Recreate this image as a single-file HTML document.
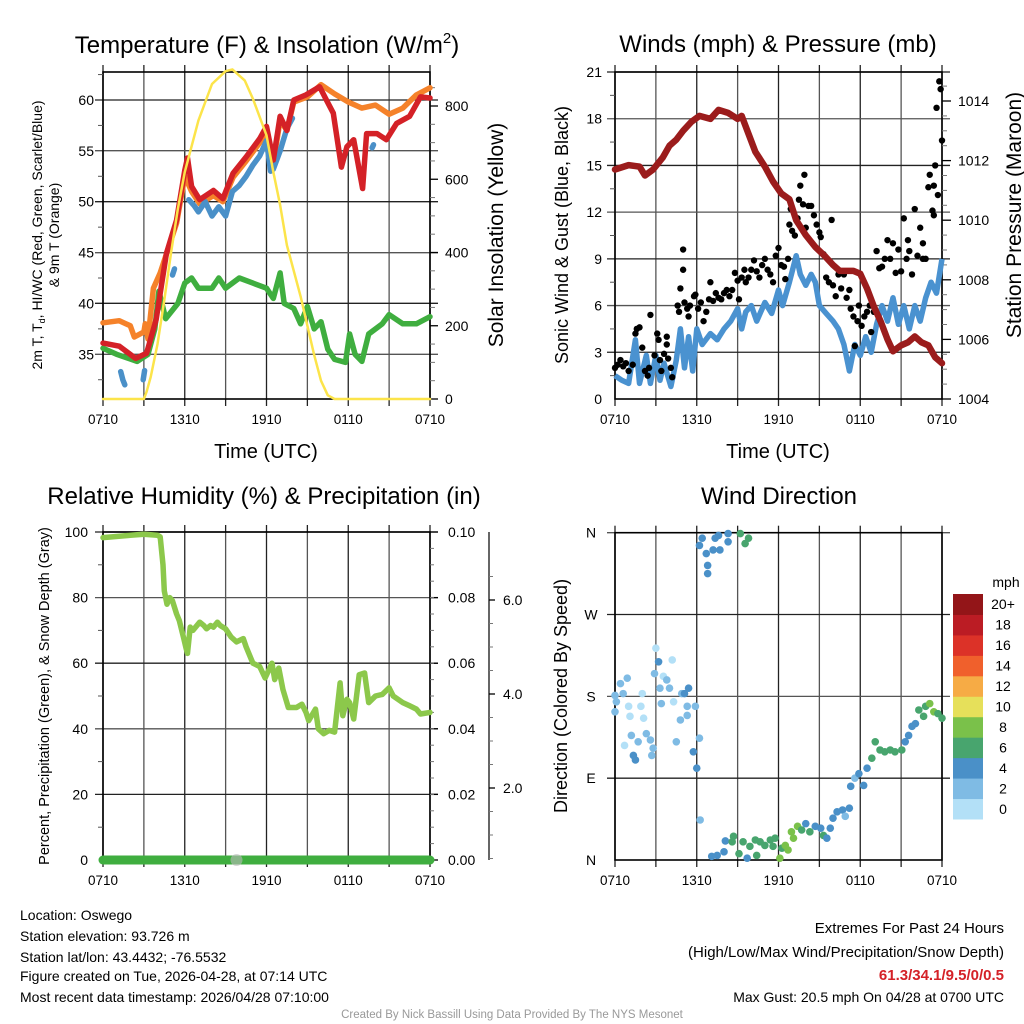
<!DOCTYPE html>
<html><head><meta charset="utf-8"><style>
html,body{margin:0;padding:0;background:#fff}
svg{display:block;font-family:"Liberation Sans",Arial,sans-serif}
</style></head><body>
<svg id="s" width="1024" height="1024" viewBox="0 0 1024 1024" xmlns="http://www.w3.org/2000/svg"></svg>
<script>
// ---------- DATA ----------
const xTickLabels = ["0710","1310","1910","0110","0710"];
// Panel 1
const tempT = [0,1.2,2.4,3.2,3.9,4.65,5.4,6.0,6.2,6.5,7.1,8.1,8.8,9.55,10.5,11.5,12.0,12.5,13.0,13.5,14.0,14.9,15.9,16.4,16.9,17.5,17.9,18.4,19.05,19.35,20.1,20.8,21.55,22.5,23.3,24];
const tempV = [36.1,35.8,34.6,35.1,38.4,44.9,48.2,53.1,54.3,51.5,50.2,51.1,50.3,52.8,54.4,56.2,57.4,54.1,58.4,57.0,60,60.5,61.3,60,58.7,53.4,55.4,56.1,51.3,56.7,56.7,56.1,57.7,58.4,60.3,60.2];
const t9T = [0,1.2,2.0,2.3,3.0,3.1,3.3,3.7,4.2,5.4,6.0,6.5,7.1,8.1,8.8,9.55,10.5,11.5,12.0,12.5,13.0,13.5,14.0,15.0,16.0,17.0,18.0,19.0,20.0,21.0,22.0,23.0,24];
const t9V = [38.1,38.3,37.8,36.7,37.2,38.0,36.5,41.5,43.0,47.9,52.5,51.0,49.8,50.6,50.0,52.4,54.0,55.8,57.0,53.8,58.0,57.0,59.8,60.3,61.5,60.6,59.8,59.2,59.5,58.6,59.2,60.5,61.2];
const hiT1 = [1.3,1.45,1.6]; const hiV1 = [33.3,32.5,32.0];
const hiT2 = [2.95,3.05]; const hiV2 = [32.5,33.4];
const hiT3 = [5.1,5.25]; const hiV3 = [42.8,43.4];
const hiT4 = [6.3,6.7,7.0,7.5,8.0,8.5,9.0,9.5,10.0,10.5,11.0,11.5,12.0,12.3,12.5,13.0,13.5,13.9];
const hiV4 = [50.2,49.6,49.0,50.0,48.6,49.5,48.6,51.0,51.6,52.5,53.6,54.5,56.0,53.0,53.2,55.0,57.2,58.2];
const hiT5 = [19.75,19.85]; const hiV5 = [55.3,55.6];
const dewT = [0,1,2.5,3.3,3.8,4.1,4.6,5.5,6.0,6.5,7,8,8.5,9,10,11,12,12.5,13,13.3,14,14.5,15,15.5,16,16.5,17,17.8,18.1,18.5,19.0,19.5,20.5,21,22,23,24];
const dewV = [35.6,35,34.3,35,37.5,41.2,38.5,40,42,42.5,41.5,41.5,42.5,41.5,42.5,42,41.5,40.5,43,40,39.5,38,39.7,37.5,38.2,35.5,34.5,34.2,37,35,34.3,37,38,38.9,38,38,38.7];
const solT = [0,3.0,3.2,3.5,4,4.5,5,5.5,6,7,8,9,9.5,10.4,11,12,12.5,13,13.5,14.5,15,15.5,16,16.5,17,24];
const solV = [0,0,20,60,150,270,400,520,620,760,860,895,900,870,820,720,620,530,420,280,200,120,50,10,0,0];
// Panel 2
const presT = [0,1,1.8,2.2,2.8,3.5,4,4.5,5,5.6,6.2,7,7.6,8.3,9,9.3,9.8,10.3,11,11.6,12.2,12.8,13.3,14,14.7,15.4,16,16.5,17.5,18,18.5,19,19.5,20,20.4,21,21.5,22,22.5,23,23.5,24];
const presV = [1011.7,1011.85,1011.8,1011.5,1011.7,1012.1,1012.5,1012.7,1013.0,1013.3,1013.5,1013.4,1013.7,1013.6,1013.4,1013.5,1012.9,1012.3,1011.8,1011.3,1010.9,1010.7,1010.0,1009.5,1009.1,1008.8,1008.5,1008.3,1008.3,1008.2,1007.7,1007.1,1006.6,1006.0,1005.6,1005.8,1005.9,1006.1,1005.9,1005.8,1005.4,1005.2];
const windT = [0,0.5,1.0,1.5,1.8,2.3,2.6,3.0,3.3,3.6,4.1,4.5,4.8,5.1,5.4,5.7,6.0,6.4,7.0,7.5,8.0,8.5,9.0,9.3,9.6,10.0,10.4,11.0,11.5,12.0,12.3,12.8,13.3,13.6,14.0,14.4,14.7,15.0,15.5,16.0,16.4,16.8,17.2,17.6,18.0,18.4,18.8,19.2,19.6,20,20.4,20.8,21.2,21.6,22,22.4,22.8,23.2,23.6,24];
const windV = [1.5,1.2,1.0,3.8,1.0,2.8,1.0,2.8,1.2,2.3,0.8,2.5,4.5,2.0,4.0,1.8,4.5,3.5,4.2,3.8,4.5,5.0,5.8,4.5,5.6,6.0,5.0,6.2,5.5,7.0,6.0,7.5,9.2,8.0,7.3,8.0,7.5,6.0,5.5,5.0,4.5,3.5,1.8,3.5,2.8,4.0,3.0,4.8,6.0,5.0,6.5,4.8,6.0,4.5,6.0,5.0,6.5,7.5,6.8,9.0];
const gustT = [0,0.2,0.4,0.6,0.8,1.0,1.3,1.5,1.6,1.8,2.0,2.2,2.4,2.5,2.6,2.9,3.1,3.2,3.3,3.4,3.6,3.8,3.8,3.9,4.1,4.2,4.6,4.7,4.8,5.0,5.0,5.1,5.3,5.4,5.5,5.8,5.9,6.1,6.3,6.5,6.7,6.9,7.0,7.2,7.4,7.6,7.8,8.0,8.2,8.4,8.6,8.8,9.0,9.1,9.3,9.5,9.6,9.8,10.0,10.2,10.4,10.6,10.8,11.0,11.2,11.4,11.6,11.8,12.0,12.2,12.4,12.5,12.7,12.8,12.9,13.0,13.2,13.4,13.5,13.6,13.8,13.9,14.0,14.2,14.4,14.6,14.8,15.0,15.1,15.3,15.5,15.7,15.9,16.0,16.2,16.4,16.6,16.8,17.0,17.2,17.3,17.5,17.6,17.8,17.9,18.1,18.3,18.5,18.7,18.8,19.0,19.2,19.4,19.6,19.8,20.0,20.2,20.4,20.6,20.8,21.0,21.2,21.4,21.5,21.6,21.8,22.0,22.2,22.4,22.6,22.6,22.8,23.0,23.1,23.3,23.4,23.4,23.5,23.6,23.7,23.8,23.9,24.0];
const gustV = [2.0,2.2,2.5,2.1,2.3,1.8,2.2,4.2,4.5,4.6,3.3,1.8,1.5,2.0,5.4,2.8,4.2,3.8,2.5,1.8,2.9,3.5,4.0,2.6,2.0,1.4,6.0,5.6,7.1,8.3,9.6,6.2,5.8,5.3,6.0,6.6,6.7,5.8,6.2,5.0,5.6,6.4,7.5,6.3,6.8,6.5,6.4,6.8,7.0,6.6,7.0,8.1,7.6,6.4,7.8,8.3,7.5,7.8,8.3,8.9,8.2,7.8,8.6,9.0,8.3,8.0,7.5,9.2,9.7,8.6,8.5,7.7,9.0,11.2,12.2,10.8,10.5,11.6,12.8,13.7,12.5,14.4,11.0,12.4,12.4,11.8,11.2,10.7,10.4,9.3,7.8,7.5,11.5,7.3,6.6,8.0,7.1,8.0,6.5,7.0,5.8,5.3,3.4,5.0,6.0,4.7,5.3,5.6,6.0,4.3,5.6,9.5,8.4,8.5,9.0,10.2,9.0,10.0,8.1,9.6,8.2,11.6,9.0,10.2,9.5,8.0,12.2,9.2,11.0,10.0,9.0,9.0,13.6,14.4,12.1,11.8,13.7,15.0,18.7,13.1,20.4,19.9,16.6];
// Panel 3
const rhT = [0,2,3,4,4.2,4.4,4.5,4.7,4.9,5.1,5.4,5.6,5.9,6.1,6.2,6.4,6.6,6.8,7.1,7.4,7.6,7.9,8.1,8.4,8.6,9.0,9.4,9.8,10.3,10.5,11,11.5,11.9,12.4,12.6,12.9,13.2,13.6,14.2,14.6,14.9,15.1,15.6,15.8,16.2,16.6,17,17.4,17.6,17.9,18.1,18.4,18.8,19.2,19.5,20,20.5,21,21.3,22,22.5,23,23.3,24];
const rhV = [98.3,99,99.3,99,98.5,90,82,78,80,79,75,73,68,64.5,63,71,70,71,72.5,71.5,70.5,71.5,71,72.5,71.5,70.5,68,66.5,67.5,65,60,59,55.5,60,55,58.5,52,46.5,46.5,47.5,45,42.5,46,40,38.5,39.5,39,54,44,49,48,43,56.5,57,48,50,50.5,52.5,50,48,47,46,44.5,45];
const precipT = [0,24]; const precipV = [0,0];
const snowT = [9.8]; const snowV = [0];
// Panel 4
const dirT = [0,0.1,0,0.4,0.9,0.6,1.0,1.1,1.2,0.7,1.35,1.5,1.7,2.0,1.9,2.1,2.3,2.6,2.8,2.7,2.9,3.0,3.2,3.3,3.4,3.55,3.8,4.0,4.2,4.3,4.5,4.8,4.9,5.1,5.4,5.3,5.3,5.75,5.9,6.0,6.2,6.25,
 6.2,6.4,6.7,6.8,6.8,7.2,7.35,7.6,7.7,8.3,8.3,9.2,9.55,9.8,
 7.1,7.5,8.0,8.1,8.6,8.7,9.1,9.4,9.7,9.9,10.3,10.4,10.65,11.0,11.4,11.6,11.75,12.1,12.25,12.5,12.7,12.95,13.1,13.4,13.7,14.0,14.3,14.7,15.1,15.3,15.55,15.8,16.0,16.3,16.7,16.9,17.2,17.3,17.6,17.9,18.25,18.5,18.85,19.1,19.45,19.8,20.2,20.55,21.05,21.3,21.55,21.8,22.05,22.3,22.65,22.8,23.1,23.4,23.7,24];
const dirV = [181,174,163,194,200,183,169,158,137,126,115,110,130,183,169,156,139,132,123,115,205,233,218,189,172,202,198,189,220,174,130,154,183,183,189,169,159,119,169,101,134,44,
 346,354,337,324,315,341,354,357,341,359,350,359,348,354,
 4,5,9,21,20,26,7,20,2,15,22,5,20,16,22,15,24,2,13,16,11,31,24,37,33,40,31,37,35,27,24,35,46,53,55,48,57,81,90,95,82,101,112,130,121,119,121,119,121,130,137,147,150,165,158,169,172,163,161,156];
const dirSpd = [2.5,2.5,3,3,3,2.5,1,1,2,1,4,4,3,1,1,1,2,3,3,2,3,1,4,3,2,1,3,2,1,1,2,3,3,4,4,3,3,4,3,4,3,3,
 4,4,4,4,4,4,5,5,4,5,4,7,7,7,
 5,5,4,4,6,7,6,6,5,6,6,7,6,6,6,7,6,8,7,8,9,8,8,8,7,5,6,5,4,6,5,4,4,5,4,3,4,4,3,5,4,5,6,6,7,6,6,7,6,5,5,4,4,6,7,7,8,8,6,7];
const cbLabels = ["0","2","4","6","8","10","12","14","16","18","20+"];
const cbColors = ["#b3e0f7","#7fbbe4","#4a90c8","#48a56e","#7ac14a","#e6e05a","#f6ab45","#f0602c","#dc3228","#bb1c24","#931518"];

// ---------- HELPERS ----------
const S = document.getElementById('s');
const NS = "http://www.w3.org/2000/svg";
function mk(tag, attrs, parent){ const e=document.createElementNS(NS,tag); for(const k in attrs) e.setAttribute(k,attrs[k]); (parent||S).appendChild(e); return e; }
function txt(str, x, y, size, anchor, parent, extra){ const e=mk('text',Object.assign({x:x,y:y,'font-size':size,'text-anchor':anchor||'middle',fill:'#000'},extra||{}),parent); e.textContent=str; return e; }
function lin(d0,d1,r0,r1){ return v => r0+(v-d0)*(r1-r0)/(d1-d0); }
function pathD(xs,ys,fx,fy){ let d=''; for(let i=0;i<xs.length;i++){ d+=(i?'L':'M')+fx(xs[i]).toFixed(1)+','+fy(ys[i]).toFixed(1);} return d; }

function frame(g, L, R, T, B, gridY){
  for(let i=0;i<=8;i++){ const x=L+(R-L)*i/8;
    const l=mk('line',{x1:x,y1:T,x2:x,y2:B,stroke:i%2?'#555':'#222','stroke-width':1.3},g);
     
    mk('line',{x1:x,y1:B,x2:x,y2:B+7,stroke:'#222','stroke-width':1.3},g);
    mk('line',{x1:x,y1:T,x2:x,y2:T-7,stroke:'#222','stroke-width':1.3},g);
  }
  gridY.forEach((y,i)=>{ const l=mk('line',{x1:L-8,y1:y,x2:R+8,y2:y,stroke:i%2?'#555':'#222','stroke-width':1.3},g);
      });
  mk('rect',{x:L,y:T,width:R-L,height:B-T,fill:'none',stroke:'#000','stroke-width':1.6},g);
  xTickLabels.forEach((s,i)=>{ const t=txt(s, L+(R-L)*i/4, B+25, 13.5,'middle',g);
      });
}

// ---------- PANEL 1 ----------
(function(){
  const g=mk('g',{});  
  const L=103,R=430,T=72,B=399;
  const fx=lin(0,24,L,R), fy=lin(35,60,354.3,100), fs=lin(0,800,399,106);
  const gy=[100,150.7,201.7,252.7,303.3,354.3];
  frame(g,L,R,T,B,gy);
  [35,40,45,50,55,60].forEach(v=>{ const t=txt(String(v),L-9,fy(v)+5,14,'end',g);   });
  for(let v=32.5;v<63;v+=5) mk('line',{x1:L-5,y1:fy(v),x2:L,y2:fy(v),stroke:'#555'},g);
  [0,200,400,600,800].forEach(v=>{ mk('line',{x1:R,y1:fs(v),x2:R+8,y2:fs(v),stroke:'#000','stroke-width':1.3},g);
    const t=txt(String(v),R+15,fs(v)+5,14,'start',g);   });
  for(let v=50;v<900;v+=50) if(v%200) mk('line',{x1:R,y1:fs(v),x2:R+5,y2:fs(v),stroke:'#777'},g);
  const ln=(xs,ys,c,w,name,f)=>{ const p=mk('path',{d:pathD(xs,ys,fx,f||fy),fill:'none',stroke:c,'stroke-width':w,'stroke-linejoin':'round','stroke-linecap':'round'},g);   };
  ln(t9T,t9V,'#f5822a',5.5,'orange-9m-temp-line');
  ln(dewT,dewV,'#3fae3f',5.5,'green-dewpoint-line');
  [[hiT1,hiV1],[hiT2,hiV2],[hiT3,hiV3],[hiT4,hiV4],[hiT5,hiV5]].forEach(a=>ln(a[0],a[1],'#4a90c8',5.5,'blue-heat-index-line'));
  ln(tempT,tempV,'#d42127',5.5,'red-2m-temp-line');
  ln(solT,solV,'#fce44a',2.5,'yellow-insolation-line',fs);
  const t=mk('text',{x:267,y:53,'font-size':24,'text-anchor':'middle'},g);  
  t.innerHTML='Temperature (F) &amp; Insolation (W/m<tspan font-size="15" dy="-10">2</tspan><tspan dy="10">)</tspan>';
  const a=mk('text',{'font-size':14,'text-anchor':'middle',transform:'translate(42,235) rotate(-90)'},g);  
  a.innerHTML='2m T, T<tspan font-size="9" dy="3">d</tspan><tspan dy="-3">, HI/WC (Red, Green, Scarlet/Blue)</tspan>';
  const a2=txt('& 9m T (Orange)',0,0,14,'middle',g,{transform:'translate(59,235) rotate(-90)'});  
  const r=txt('Solar Insolation (Yellow)',0,0,21,'middle',g,{transform:'translate(503,235) rotate(-90)'});  
  const x=txt('Time (UTC)',266,458,20,'middle',g);  
})();

// ---------- PANEL 2 ----------
(function(){
  const g=mk('g',{});  
  const L=615,R=942,T=72,B=399;
  const fx=lin(0,24,L,R), fy=lin(0,21,B,T), fp=lin(1004,1014,399,101);
  const gy=[]; for(let v=3;v<=21;v+=3) gy.push(fy(v));
  frame(g,L,R,T,B,gy);
  for(let v=0;v<=21;v+=3){ const t=txt(String(v),L-13,fy(v)+5,14,'end',g);   }
  for(let v=1.5;v<21;v+=3) mk('line',{x1:L-5,y1:fy(v),x2:L,y2:fy(v),stroke:'#555'},g);
  for(let v=1004;v<=1014;v+=2){ mk('line',{x1:R,y1:fp(v),x2:R+9,y2:fp(v),stroke:'#000','stroke-width':1.3},g);
    const t=txt(String(v),R+16,fp(v)+5,14,'start',g);   }
  for(let v=1004.5;v<1015;v+=0.5) if(v%2) mk('line',{x1:R,y1:fp(v),x2:R+5,y2:fp(v),stroke:'#777'},g);
  const w=mk('path',{d:pathD(windT,windV,fx,fy),fill:'none',stroke:'#4a92d0','stroke-width':5.5,'stroke-linejoin':'round'},g);
   
  for(let i=0;i<gustT.length;i++){ const c=mk('circle',{cx:fx(gustT[i]),cy:fy(gustV[i]),r:3.2,fill:'#000'},g);
      }
  const p=mk('path',{d:pathD(presT,presV,fx,fp),fill:'none',stroke:'#9b1c1c','stroke-width':6.5,'stroke-linejoin':'round','stroke-linecap':'round'},g);
   
  const t=txt('Winds (mph) & Pressure (mb)',778,52,24,'middle',g);  
  const a=txt('Sonic Wind & Gust (Blue, Black)',0,0,18,'middle',g,{transform:'translate(568,235) rotate(-90)'});  
  const r=txt('Station Pressure (Maroon)',0,0,21,'middle',g,{transform:'translate(1021,215) rotate(-90)'});  
  const x=txt('Time (UTC)',778,458,20,'middle',g);  
})();

// ---------- PANEL 3 ----------
(function(){
  const g=mk('g',{});  
  const L=103,R=430,T=532,B=860;
  const fx=lin(0,24,L,R), fy=lin(0,100,B,T), fpr=lin(0,0.1,B,T), fsd=lin(0,2,882,788);
  const gy=[]; for(let v=20;v<=100;v+=20) gy.push(fy(v));
  frame(g,L,R,T,B,gy);
  for(let v=0;v<=100;v+=20){ const t=txt(String(v),L-15,fy(v)+5,14,'end',g);   }
  for(let v=10;v<100;v+=20) mk('line',{x1:L-5,y1:fy(v),x2:L,y2:fy(v),stroke:'#555'},g);
  for(let v=0;v<=0.1001;v+=0.02){ mk('line',{x1:R,y1:fpr(v),x2:R+8,y2:fpr(v),stroke:'#000','stroke-width':1.3},g);
    const t=txt(v.toFixed(2),R+18,fpr(v)+5,14,'start',g);   }
  for(let v=0.005;v<0.1;v+=0.005) mk('line',{x1:R,y1:fpr(v),x2:R+4,y2:fpr(v),stroke:'#777'},g);
  const ax=mk('line',{x1:489,y1:T,x2:489,y2:B,stroke:'#333','stroke-width':1.5},g);  
  [2,4,6].forEach(v=>{ mk('line',{x1:489,y1:fsd(v),x2:495,y2:fsd(v),stroke:'#000','stroke-width':1.3},g);
    const t=txt(v.toFixed(1),503,fsd(v)+5,14,'start',g);   });
  for(let v=0.5;v<7;v+=0.5) if(v%2) mk('line',{x1:489,y1:fsd(v),x2:493,y2:fsd(v),stroke:'#777'},g);
  const pr=mk('path',{d:pathD(precipT,precipV,fx,fpr),fill:'none',stroke:'#3fae3f','stroke-width':9,'stroke-linecap':'round'},g);
   
  snowT.forEach((t,i)=>{ const c=mk('circle',{cx:fx(t),cy:fy(snowV[i]),r:6,fill:'#bbb','fill-opacity':0.6},g);   });
  const rh=mk('path',{d:pathD(rhT,rhV,fx,fy),fill:'none',stroke:'#8cc84b','stroke-width':5.5,'stroke-linejoin':'round','stroke-linecap':'round'},g);
   
  const t=txt('Relative Humidity (%) & Precipitation (in)',264,504,24,'middle',g);  
  const a=txt('Percent, Precipitation (Green), & Snow Depth (Gray)',0,0,14.5,'middle',g,{transform:'translate(49,696) rotate(-90)'});  
})();

// ---------- PANEL 4 ----------
(function(){
  const g=mk('g',{});  
  const L=615,R=942,T=532.7,B=860;
  const fx=lin(0,24,L,R), fy=lin(0,360,B,T);
  const gy=[90,180,270,360].map(fy);
  frame(g,L,R,T,B,gy);
  [['N',0],['E',90],['S',180],['W',270],['N',360]].forEach(a=>{ const t=txt(a[0],591,fy(a[1])+5,14,'middle',g);   });
  for(let i=0;i<dirT.length;i++){ const sp=(dirSpd[i]===undefined)?6:dirSpd[i];
    const bin=Math.min(10,Math.max(0,Math.floor(sp/2)));
    const c=mk('circle',{cx:fx(dirT[i]),cy:fy(dirV[i]),r:3.8,fill:cbColors[bin]},g);
      }
  const cbT=594, cbH=225/11;
  for(let i=0;i<11;i++){ const y=cbT+(10-i)*cbH;
    const r=mk('rect',{x:953,y:y,width:30,height:cbH+0.5,fill:cbColors[i]},g);  
    const t=txt(cbLabels[i],1003,y+cbH/2+5,14,'middle',g);   }
  const m=txt('mph',1006,587,14,'middle',g);  
  const t=txt('Wind Direction',779,504,24,'middle',g);  
  const a=txt('Direction (Colored By Speed)',0,0,18,'middle',g,{transform:'translate(567,696) rotate(-90)'});  
})();

// ---------- FOOTER ----------
(function(){
  const g=mk('g',{});  
  const lines=['Location: Oswego','Station elevation: 93.726 m','Station lat/lon: 43.4432; -76.5532','Figure created on Tue, 2026-04-28, at 07:14 UTC','Most recent data timestamp: 2026/04/28 07:10:00'];
  const ys=[920,941,962,981,1002];
  lines.forEach((s,i)=>{ const t=txt(s,20,ys[i],14,'start',g);   });
  const g2=mk('g',{});  
  let t=txt('Extremes For Past 24 Hours',1004,933,15,'end',g2);  
  t=txt('(High/Low/Max Wind/Precipitation/Snow Depth)',1004,957,15,'end',g2);  
  t=txt('61.3/34.1/9.5/0/0.5',1004,980,15,'end',g2,{fill:'#d42127','font-weight':'bold'});  
  t=txt('Max Gust: 20.5 mph On 04/28 at 0700 UTC',1004,1002,14,'end',g2);  
  t=txt('Created By Nick Bassill Using Data Provided By The NYS Mesonet',512,1018,11.5,'middle',S,{fill:'#999'});  
})();
</script>
</body></html>
